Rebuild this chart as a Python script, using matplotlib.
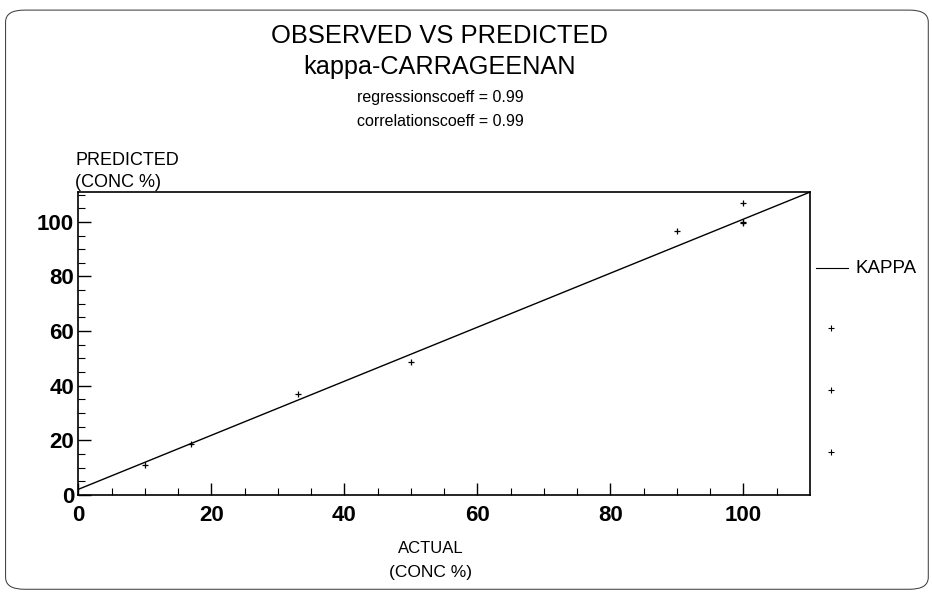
import numpy as np
import matplotlib.pyplot as plt
from matplotlib.patches import FancyBboxPatch

plt.rcParams['font.family'] = ['Liberation Sans', 'DejaVu Sans']

# observed vs predicted concentrations (%)
actual = [10, 17, 33, 50, 90, 100, 100, 100]
predicted = [11, 18.5, 37, 48.5, 96.5, 100, 99.5, 107]

# regression line ends
fit_x = [0, 110]
fit_y = [2, 110.9]

title_lines = ["OBSERVED VS PREDICTED", "kappa-CARRAGEENAN"]
stat_lines = ["regressionscoeff = 0.99", "correlationscoeff = 0.99"]
x_ticks = [0, 20, 40, 60, 80, 100]
y_ticks = [0, 20, 40, 60, 80, 100]

fig = plt.figure(figsize=(9.32, 5.94), dpi=100)
ax = fig.add_axes([0.084, 0.167, 0.785, 0.510])

ax.plot(fit_x, fit_y, color='black', lw=1.0)
ax.plot(actual, predicted, '+', color='black', ms=5, mew=0.9)

ax.set_xlim(0, 110)
ax.set_ylim(0, 111)
ax.set_xticks(x_ticks)
ax.set_yticks(y_ticks)
ax.set_xticks(np.arange(0, 110, 5), minor=True)
ax.set_yticks(np.arange(0, 111, 5), minor=True)
ax.tick_params(which='major', direction='in', length=9, width=1,
               labelsize=16)
ax.tick_params(axis='x', which='major', pad=7)
ax.tick_params(axis='y', which='major', pad=3)
ax.tick_params(which='minor', direction='in', length=5, width=0.8)
for lab in ax.get_xticklabels() + ax.get_yticklabels():
    lab.set_fontweight('bold')
for sp in ax.spines.values():
    sp.set_linewidth(1.2)

# titles
fig.text(0.472, 0.940, title_lines[0], ha='center', va='center', fontsize=18.4)
fig.text(0.472, 0.887, title_lines[1], ha='center', va='center', fontsize=18.2)
fig.text(0.472, 0.836, stat_lines[0], ha='center', va='center', fontsize=11.5)
fig.text(0.472, 0.795, stat_lines[1], ha='center', va='center', fontsize=11.5)

# axis labels
fig.text(0.081, 0.730, "PREDICTED", ha='left', va='center', fontsize=13)
fig.text(0.081, 0.692, "(CONC %)", ha='left', va='center', fontsize=13)
fig.text(0.462, 0.077, "ACTUAL", ha='center', va='center', fontsize=12)
fig.text(0.462, 0.037, "(CONC %)", ha='center', va='center', fontsize=12.5)

# legend drawn at right
fig.add_artist(plt.Line2D([0.875, 0.910], [0.548, 0.548], color='black',
                          lw=0.8, transform=fig.transFigure))
fig.text(0.918, 0.548, "KAPPA", ha='left', va='center', fontsize=13.5)
for yy in [0.448, 0.344, 0.239]:
    fig.add_artist(plt.Line2D([0.892], [yy], marker='+', color='black',
                              ms=4, mew=0.8, transform=fig.transFigure))

# rounded page frame
frame = FancyBboxPatch((0.006, 0.008), 0.99, 0.975,
                       boxstyle="round,pad=0,rounding_size=0.02",
                       transform=fig.transFigure, fill=False,
                       edgecolor='#333333', lw=0.7)
fig.add_artist(frame)

fig.savefig("out.png", dpi=100)
